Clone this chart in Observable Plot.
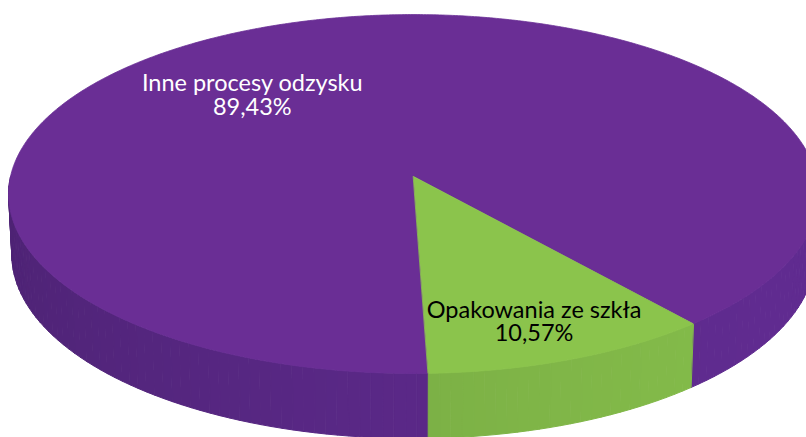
<!DOCTYPE html>
<html>
<head>
<meta charset="utf-8">
<script src="https://cdn.jsdelivr.net/npm/d3@7"></script>
<script src="https://cdn.jsdelivr.net/npm/@observablehq/plot@0.6"></script>
<style>
  html, body { margin: 0; padding: 0; background: #fff; overflow: hidden; }
  #chart { width: 806px; height: 437px; overflow: hidden; }
</style>
</head>
<body>
<div id="chart"></div>
<script>
// ---- data ----
const categories = ["Inne procesy odzysku", "Opakowania ze szkła"];
const values = [89.43, 10.57];
const valueLabels = ["89,43%", "10,57%"];
const topColors = ["#6a2e95", "#8bc44c"];
const sideColors = ["#602b90", "#84bc4a"];
const textColors = ["#ffffff", "#000000"];

// ---- layout (3D view) ----
const firstSliceAngle = 178.1;          // degrees, clockwise from 12 o'clock
const D = 9.2;                           // camera distance (disk radius = 1)
const SE = 0.441, CE = Math.sqrt(1 - SE * SE); // view elevation
const T = 0.168;                         // pie thickness
const labelPlacement = [{r: 0.634, shift: -20.4}, {r: 0.809, shift: 0.9}];

const rad = Math.PI / 180;
function project(phi, r, h) {
  const X = r * Math.cos(phi), Z = r * Math.sin(phi), Y = -h * T;
  const yc = Z * SE - Y * CE;
  const depth = D - Z * CE - Y * SE;
  return {u: X * D / depth, v: yc * D / depth};
}

const pie = d3.pie().sort(null).value(d => d.value)
  .startAngle(firstSliceAngle * rad).endAngle(firstSliceAngle * rad + 2 * Math.PI);
const rows = categories.map((c, i) => ({category: c, value: values[i], label: valueLabels[i], i}));
const arcs = pie(rows);
const toPhi = a => a - Math.PI / 2;

// side walls (front half), shaded strips
const walls = [];
let wid = 0;
arcs.forEach(a => {
  let p0 = toPhi(a.startAngle), p1 = toPhi(a.endAngle);
  for (const off of [-2 * Math.PI, 0, 2 * Math.PI]) {
    const s = Math.max(p0 + off, 0), e = Math.min(p1 + off, Math.PI);
    if (e <= s) continue;
    const n = Math.max(1, Math.ceil((e - s) / (1.5 * rad)));
    for (let k = 0; k < n; k++) {
      const q0 = s + (e - s) * k / n, q1 = s + (e - s) * (k + 1) / n;
      const qm = (q0 + q1) / 2;
      const shade = 0.9 + 0.1 * Math.cos(qm - 0.4);
      const c = d3.rgb(sideColors[a.data.i]);
      const col = d3.rgb(c.r * shade, c.g * shade, c.b * shade).formatHex();
      const pts = [project(q0, 1, 0), project(q1, 1, 0), project(q1, 1, 1), project(q0, 1, 1)];
      pts.forEach(p => walls.push({...p, id: wid, color: col}));
      wid++;
    }
  }
});

// top faces
const tops = [];
arcs.forEach(a => {
  const p0 = toPhi(a.startAngle), p1 = toPhi(a.endAngle);
  const n = Math.ceil((p1 - p0) / (0.5 * rad));
  tops.push({...project(0, 0, 0), id: a.data.i, color: topColors[a.data.i]});
  for (let k = 0; k <= n; k++) {
    tops.push({...project(p0 + (p1 - p0) * k / n, 1, 0), id: a.data.i, color: topColors[a.data.i]});
  }
});

// labels
const labelRows = arcs.map(a => {
  const lp = labelPlacement[a.data.i];
  const mid = toPhi((a.startAngle + a.endAngle) / 2) + lp.shift * rad;
  return {...project(mid, lp.r, 0), name: a.data.category, pct: a.data.label, fill: textColors[a.data.i]};
});

const W = 806, H = 437, cx = 413, cy = 176, k = 403;
const font = "Lato, 'Open Sans', sans-serif";
const chart = Plot.plot({
  width: W, height: H,
  margin: 0,
  x: {domain: [-cx / k, (W - cx) / k], range: [0, W], axis: null},
  y: {domain: [-cy / k, (H - cy) / k], range: [0, H], axis: null},
  color: {type: "identity"},
  style: {background: "white", overflow: "hidden"},
  marks: [
    Plot.line(walls, {x: "u", y: "v", z: "id", fill: "color", stroke: "color", strokeWidth: 1, curve: "linear-closed"}),
    Plot.line(tops, {x: "u", y: "v", z: "id", fill: "color", stroke: "color", strokeWidth: 0.8, curve: "linear-closed"}),
    Plot.text(labelRows, {x: "u", y: "v", text: "name", fill: "fill", fontSize: 23.5, dy: -12,
      fontFamily: font, textAnchor: "middle", lineAnchor: "middle"}),
    Plot.text(labelRows, {x: "u", y: "v", text: "pct", fill: "fill", fontSize: 23.5, dy: 11.5,
      fontFamily: font, textAnchor: "middle", lineAnchor: "middle"})
  ]
});
document.getElementById("chart").appendChild(chart);
</script>
</body>
</html>
